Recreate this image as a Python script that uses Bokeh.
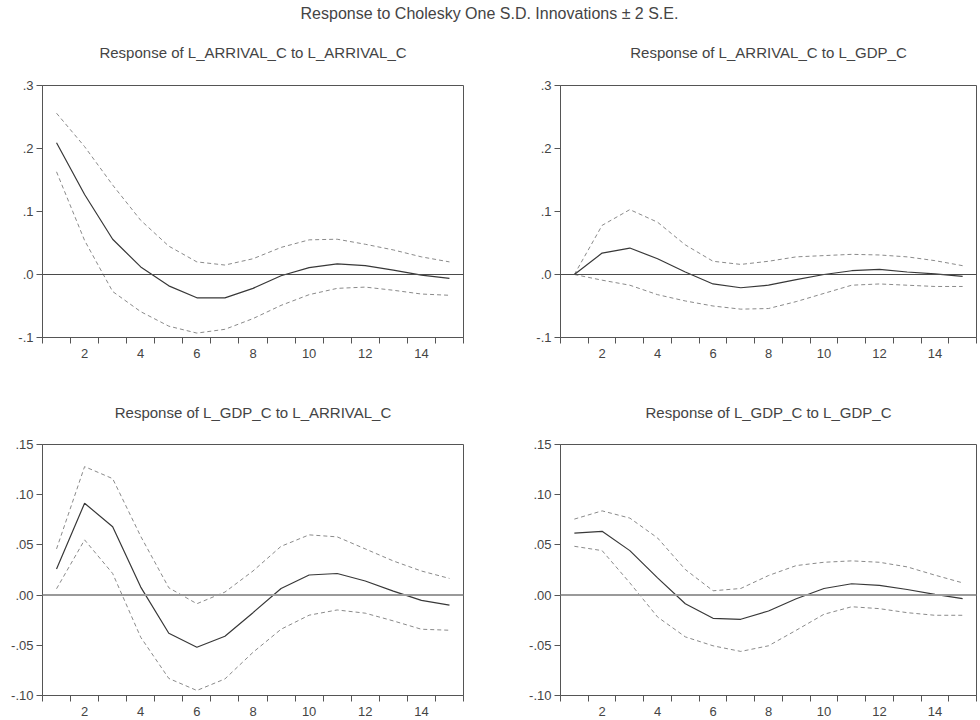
from bokeh.plotting import figure
from bokeh.layouts import column, row
from bokeh.models import FixedTicker, Span, Range1d, ColumnDataSource
from bokeh.core.properties import value
from bokeh.embed import file_html
from bokeh.resources import INLINE

# ---------------- data ----------------
periods = list(range(1, 16))

main_title = "Response to Cholesky One S.D. Innovations \u00b1 2 S.E."
panel_titles = [
    "Response of L_ARRIVAL_C to L_ARRIVAL_C",
    "Response of L_ARRIVAL_C to L_GDP_C",
    "Response of L_GDP_C to L_ARRIVAL_C",
    "Response of L_GDP_C to L_GDP_C",
]

# Response of L_ARRIVAL_C to L_ARRIVAL_C
arr_arr = [0.209, 0.127, 0.056, 0.012, -0.018, -0.037, -0.037, -0.022, -0.002, 0.011, 0.017, 0.014, 0.007, -0.001, -0.006]
arr_arr_hi = [0.256, 0.203, 0.142, 0.086, 0.045, 0.020, 0.015, 0.025, 0.043, 0.055, 0.056, 0.048, 0.039, 0.028, 0.020]
arr_arr_lo = [0.163, 0.054, -0.027, -0.059, -0.082, -0.093, -0.087, -0.070, -0.049, -0.032, -0.022, -0.020, -0.025, -0.031, -0.033]

# Response of L_ARRIVAL_C to L_GDP_C
arr_gdp = [0.0, 0.034, 0.042, 0.025, 0.004, -0.015, -0.021, -0.017, -0.008, 0.000, 0.006, 0.008, 0.004, 0.001, -0.003]
arr_gdp_hi = [0.0, 0.078, 0.103, 0.083, 0.047, 0.021, 0.016, 0.021, 0.028, 0.030, 0.032, 0.031, 0.028, 0.022, 0.014]
arr_gdp_lo = [0.0, -0.009, -0.017, -0.032, -0.042, -0.050, -0.055, -0.054, -0.043, -0.030, -0.017, -0.015, -0.017, -0.019, -0.019]

# Response of L_GDP_C to L_ARRIVAL_C
gdp_arr = [0.026, 0.0915, 0.068, 0.008, -0.038, -0.052, -0.041, -0.0175, 0.0066, 0.020, 0.0215, 0.014, 0.004, -0.0053, -0.0099]
gdp_arr_hi = [0.046, 0.128, 0.116, 0.0585, 0.0073, -0.0086, 0.003, 0.024, 0.0486, 0.060, 0.058, 0.046, 0.034, 0.024, 0.0166]
gdp_arr_lo = [0.0063, 0.055, 0.0215, -0.042, -0.083, -0.095, -0.0835, -0.057, -0.034, -0.020, -0.0148, -0.018, -0.0257, -0.034, -0.035]

# Response of L_GDP_C to L_GDP_C
gdp_gdp = [0.0618, 0.0635, 0.0443, 0.0172, -0.0086, -0.0231, -0.0241, -0.0158, -0.0036, 0.0066, 0.0113, 0.0096, 0.0056, 0.0007, -0.0036]
gdp_gdp_hi = [0.0757, 0.0839, 0.0767, 0.0569, 0.0255, 0.0043, 0.0066, 0.0195, 0.0294, 0.0327, 0.0341, 0.0327, 0.0281, 0.0199, 0.0122]
gdp_gdp_lo = [0.0486, 0.0443, 0.0122, -0.0218, -0.0416, -0.0505, -0.0561, -0.0505, -0.035, -0.0191, -0.0116, -0.0135, -0.0175, -0.0201, -0.0201]

x_label_ticks = [2, 4, 6, 8, 10, 12, 14]
x_minor_ticks = [0.5 + i for i in range(16)]

top_y_ticks = [-0.1, 0.0, 0.1, 0.2, 0.3]
top_y_labels = ["-.1", ".0", ".1", ".2", ".3"]
bot_y_ticks = [-0.10, -0.05, 0.0, 0.05, 0.10, 0.15]
bot_y_labels = ["-.10", "-.05", ".00", ".05", ".10", ".15"]

# ---------------- styling ----------------
FONT = "Liberation Sans"
TXT = "#444444"
AX = "#555555"

# column geometry: (left border, frame width, right border)
COLS = [(42, 421, 27), (70, 416, 2)]


def text_strip(width, height, x_px, y_from_top, txt, size):
    f = figure(width=width, height=height, output_backend="svg", toolbar_location=None,
               x_range=Range1d(0, width), y_range=Range1d(0, height),
               min_border=0, min_border_left=0, min_border_right=0,
               min_border_top=0, min_border_bottom=0)
    f.axis.visible = False
    f.grid.visible = False
    f.outline_line_color = None
    f.text(x=[x_px], y=[height - y_from_top], text=[txt], text_align="center",
           text_baseline="middle", text_font=value(FONT), text_font_size=size,
           text_color=TXT)
    return f


def make_panel(mid, hi, lo, yticks, ylabels, col, top_row):
    w_left, fw, w_right = COLS[col]
    b_top = 21 if top_row else 20
    b_bot = 43 if top_row else 21
    fh = 252 if top_row else 253
    p = figure(width=w_left + fw + w_right, height=b_top + fh + b_bot,
               output_backend="svg", toolbar_location=None,
               x_range=Range1d(0.5, 15.5), y_range=Range1d(yticks[0], yticks[-1]),
               min_border_left=w_left, min_border_right=w_right,
               min_border_top=b_top, min_border_bottom=b_bot)
    p.grid.visible = False
    p.outline_line_color = AX
    p.outline_line_width = 1
    p.outline_line_alpha = 1

    xa = p.xaxis[0]
    xa.ticker = FixedTicker(ticks=x_label_ticks, minor_ticks=x_minor_ticks)
    xa.major_tick_in = 0
    xa.major_tick_out = 0
    xa.minor_tick_in = 0
    xa.minor_tick_out = 6
    xa.minor_tick_line_color = AX
    xa.axis_line_color = AX
    xa.major_label_standoff = 5
    xa.major_label_text_font = FONT
    xa.major_label_text_font_size = "13px"
    xa.major_label_text_color = TXT

    ya = p.yaxis[0]
    ya.ticker = FixedTicker(ticks=yticks, minor_ticks=[])
    ya.major_label_overrides = {t: l for t, l in zip(yticks, ylabels)}
    ya.major_tick_in = 0
    ya.major_tick_out = 6
    ya.major_tick_line_color = AX
    ya.minor_tick_in = 0
    ya.minor_tick_out = 0
    ya.axis_line_color = AX
    ya.major_label_standoff = 3
    ya.major_label_text_font = FONT
    ya.major_label_text_font_size = "13px"
    ya.major_label_text_color = TXT

    if top_row:
        zero = Span(location=0, dimension="width", line_color="#4a4a4a", line_width=1)
    else:
        zero = Span(location=0, dimension="width", line_color="#9a9a9a", line_width=2)
    p.add_layout(zero)

    src = ColumnDataSource(dict(x=periods, mid=mid, hi=hi, lo=lo))
    p.line("x", "hi", source=src, line_color="#8a8a8a", line_width=1, line_dash="4 3")
    p.line("x", "lo", source=src, line_color="#8a8a8a", line_width=1, line_dash="4 3")
    p.line("x", "mid", source=src, line_color="#383838", line_width=1.2)
    return p


def title_strip(col, height, y_from_top, txt):
    w_left, fw, w_right = COLS[col]
    return text_strip(w_left + fw + w_right, height, w_left + fw / 2.0, y_from_top, txt, "15px")


p1 = make_panel(arr_arr, arr_arr_hi, arr_arr_lo, top_y_ticks, top_y_labels, 0, True)
p2 = make_panel(arr_gdp, arr_gdp_hi, arr_gdp_lo, top_y_ticks, top_y_labels, 1, True)
p3 = make_panel(gdp_arr, gdp_arr_hi, gdp_arr_lo, bot_y_ticks, bot_y_labels, 0, False)
p4 = make_panel(gdp_gdp, gdp_gdp_hi, gdp_gdp_lo, bot_y_ticks, bot_y_labels, 1, False)

t1 = title_strip(0, 38, 26, panel_titles[0])
t2 = title_strip(1, 38, 26, panel_titles[1])
t3 = title_strip(0, 44, 32, panel_titles[2])
t4 = title_strip(1, 44, 32, panel_titles[3])

tf = text_strip(978, 26, 489, 13, main_title, "16px")

layout = column(tf, row(t1, t2), row(p1, p2), row(t3, t4), row(p3, p4))

html = file_html(layout, INLINE, title="IRF")
with open("out.html", "w") as f:
    f.write(html)
